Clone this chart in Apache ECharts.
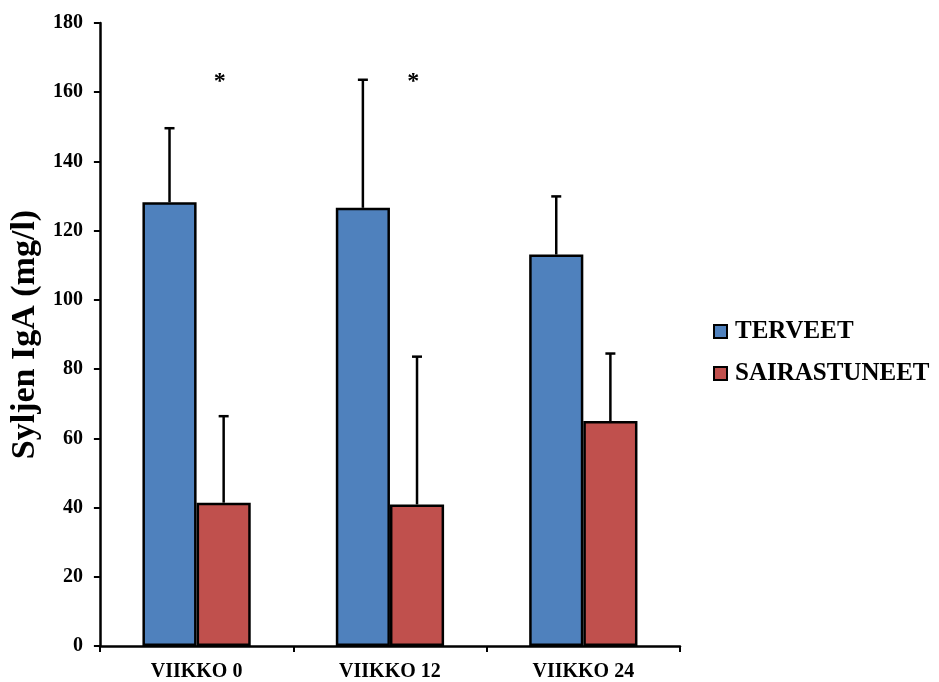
<!DOCTYPE html>
<html>
<head>
<meta charset="utf-8">
<script src="https://cdn.jsdelivr.net/npm/echarts@6/dist/echarts.min.js"></script>
<style>html,body{margin:0;padding:0;background:#fff}#c{width:939px;height:682px}</style>
</head>
<body>
<div id="c"></div>
<script>
const categories = ['VIIKKO 0', 'VIIKKO 12', 'VIIKKO 24'];
const terveet = [128.2, 126.6, 113.1];
const terveetErr = [21.4, 37.0, 16.8];
const sairastuneet = [41.4, 40.9, 65.0];
const sairastuneetErr = [25.0, 42.7, 19.5];
const starValues = [163.6, 163.6, null];
const yTicks = [0, 20, 40, 60, 80, 100, 120, 140, 160, 180];

const FONT = '"Liberation Serif", "Times New Roman", serif';
const BLUE = '#4F81BD', RED = '#C0504D';
const BAR_FRAC = 0.28;

function errSeries(name, vals, errs, side) {
  return {
    type: 'custom', name: name + '_err', silent: true, z: 5,
    data: vals.map((v, i) => [i, v, v + errs[i]]),
    renderItem: function (params, api) {
      const band = api.size([1, 0])[0];
      const base = api.coord([api.value(0), api.value(1)]);
      const top = api.coord([api.value(0), api.value(2)]);
      const x = base[0] + side * band * BAR_FRAC / 2;
      const st = { stroke: '#000', lineWidth: 2.5 };
      return { type: 'group', children: [
        { type: 'line', shape: { x1: x, y1: base[1], x2: x, y2: top[1] }, style: st },
        { type: 'line', shape: { x1: x - 5, y1: top[1], x2: x + 5, y2: top[1] }, style: st }
      ]};
    }
  };
}

const chart = echarts.init(document.getElementById('c'));
chart.setOption({
  animation: false,
  backgroundColor: '#fff',
  grid: { left: 99, right: 259, top: 23, bottom: 35, containLabel: false },
  legend: {
    orient: 'vertical', left: 708, top: 314, itemWidth: 13, itemHeight: 13, itemGap: 17,
    icon: 'rect',
    data: ['TERVEET', 'SAIRASTUNEET'],
    itemStyle: { borderColor: '#000', borderWidth: 2 },
    textStyle: { fontFamily: FONT, fontWeight: 'bold', fontSize: 25, color: '#000', padding: [0, 0, 0, 3] }
  },
  xAxis: {
    type: 'category', data: categories,
    axisLine: { lineStyle: { color: '#000', width: 2.5 } },
    axisTick: { show: true, length: 6, lineStyle: { color: '#000', width: 2 } },
    axisLabel: { fontFamily: FONT, fontWeight: 'bold', fontSize: 20, color: '#000', margin: 16 }
  },
  yAxis: {
    type: 'value', min: 0, max: 180, interval: 20,
    name: 'Syljen IgA (mg/l)', nameLocation: 'middle', nameGap: 55, nameRotate: 90,
    nameTextStyle: { fontFamily: FONT, fontWeight: 'bold', fontSize: 34, color: '#000' },
    splitLine: { show: false },
    axisLine: { show: true, lineStyle: { color: '#000', width: 2.5 } },
    axisTick: { show: true, length: 6, lineStyle: { color: '#000', width: 2 } },
    axisLabel: { fontFamily: FONT, fontWeight: 'bold', fontSize: 20, color: '#000', margin: 17,
      formatter: v => yTicks.includes(v) ? String(v) : '' }
  },
  series: [
    { name: 'TERVEET', type: 'bar', data: terveet, barWidth: (BAR_FRAC * 100) + '%', barGap: '0%',
      itemStyle: { color: BLUE, borderColor: '#000', borderWidth: 2.5 } },
    { name: 'SAIRASTUNEET', type: 'bar', data: sairastuneet, barWidth: (BAR_FRAC * 100) + '%', barGap: '0%',
      itemStyle: { color: RED, borderColor: '#000', borderWidth: 2.5 } },
    errSeries('TERVEET', terveet, terveetErr, -1),
    errSeries('SAIRASTUNEET', sairastuneet, sairastuneetErr, 1),
    {
      type: 'custom', name: 'stars', silent: true, z: 6,
      data: starValues.map((v, i) => [i, v]),
      renderItem: function (params, api) {
        const v = api.value(1);
        if (v == null || isNaN(v)) return null;
        const band = api.size([1, 0])[0];
        const p = api.coord([api.value(0), v]);
        return { type: 'text', x: p[0] + band * 0.12, y: p[1] + 2,
          style: { text: '*', fontFamily: FONT, fontWeight: 'bold', fontSize: 24, fill: '#000',
            align: 'center', verticalAlign: 'middle' } };
      }
    }
  ]
});
</script>
</body>
</html>
